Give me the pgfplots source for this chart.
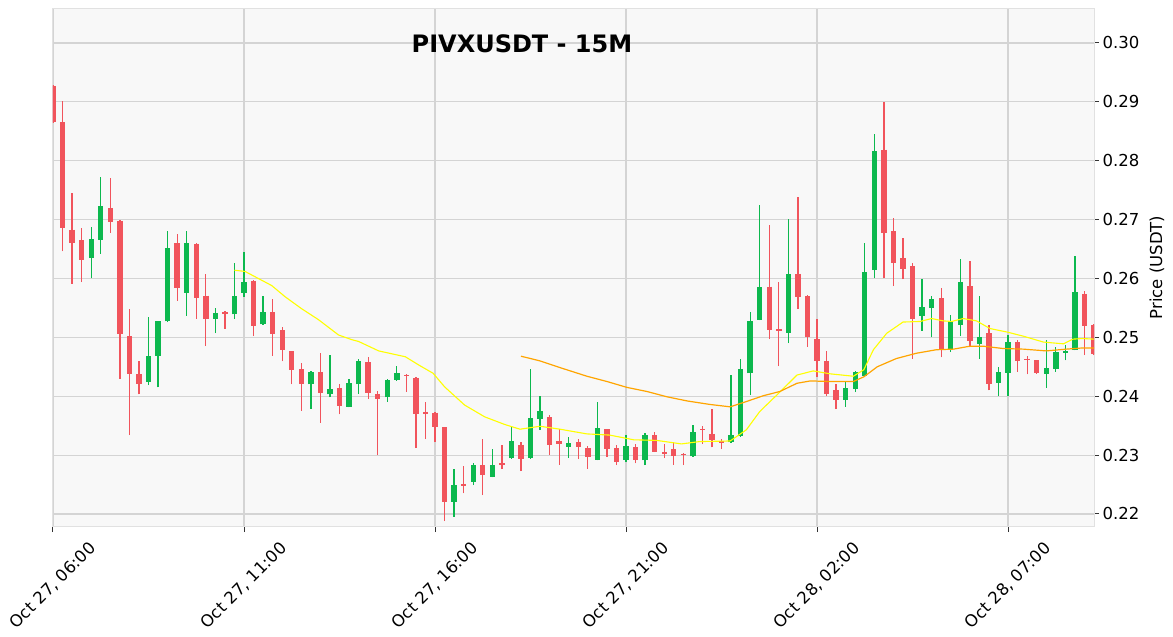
\documentclass[border=0pt]{standalone}
\usepackage{pgfplots}
\usepackage{pgfplotstable}
\pgfplotsset{compat=1.18}
\usepackage{fontspec}
\setmainfont{DejaVu Sans}
\definecolor{upc}{RGB}{12,184,78}
\definecolor{dnc}{RGB}{241,84,92}
\definecolor{bgc}{RGB}{248,248,248}
\definecolor{gridc}{RGB}{212,212,212}
\definecolor{spinec}{RGB}{225,225,225}
\definecolor{ma20}{RGB}{255,255,0}
\definecolor{ma50}{RGB}{255,165,0}

\pgfplotstableread{
i o h l c
0 0.2927 0.2928 0.2864 0.2865
1 0.2865 0.2902 0.2646 0.2686
2 0.2683 0.2746 0.2591 0.2661
3 0.2665 0.2685 0.2594 0.2632
4 0.2635 0.2687 0.2600 0.2667
5 0.2666 0.2773 0.2642 0.2723
6 0.2719 0.2770 0.2678 0.2696
7 0.2698 0.2700 0.2430 0.2506
8 0.2502 0.2549 0.2334 0.2437
9 0.2437 0.2459 0.2403 0.2420
10 0.2425 0.2534 0.2419 0.2468
11 0.2469 0.2528 0.2415 0.2527
12 0.2527 0.2680 0.2526 0.2651
13 0.2660 0.2675 0.2562 0.2584
14 0.2576 0.2680 0.2537 0.2660
15 0.2659 0.2660 0.2532 0.2567
16 0.2571 0.2607 0.2485 0.2532
17 0.2532 0.2550 0.2507 0.2541
18 0.2543 0.2545 0.2515 0.2539
19 0.2539 0.2626 0.2532 0.2571
20 0.2576 0.2645 0.2569 0.2594
21 0.2596 0.2597 0.2502 0.2520
22 0.2522 0.2570 0.2521 0.2543
23 0.2543 0.2565 0.2469 0.2506
24 0.2512 0.2518 0.2459 0.2479
25 0.2476 0.2477 0.2420 0.2445
26 0.2446 0.2456 0.2375 0.2420
27 0.2420 0.2443 0.2379 0.2441
28 0.2441 0.2473 0.2355 0.2406
29 0.2403 0.2470 0.2398 0.2412
30 0.2414 0.2420 0.2369 0.2384
31 0.2382 0.2430 0.2381 0.2422
32 0.2420 0.2463 0.2404 0.2460
33 0.2458 0.2467 0.2395 0.2406
34 0.2403 0.2409 0.2300 0.2396
35 0.2398 0.2430 0.2391 0.2427
36 0.2428 0.2451 0.2426 0.2440
37 0.2436 0.2437 0.2408 0.2434
38 0.2431 0.2433 0.2312 0.2369
39 0.2374 0.2390 0.2327 0.2370
40 0.2372 0.2373 0.2322 0.2347
41 0.2347 0.2348 0.2188 0.2221
42 0.2221 0.2276 0.2195 0.2250
43 0.2251 0.2282 0.2235 0.2248
44 0.2255 0.2286 0.2249 0.2283
45 0.2283 0.2327 0.2232 0.2267
46 0.2263 0.2310 0.2262 0.2283
47 0.2286 0.2317 0.2276 0.2284
48 0.2295 0.2350 0.2294 0.2324
49 0.2318 0.2322 0.2273 0.2293
50 0.2295 0.2446 0.2294 0.2363
51 0.2362 0.2400 0.2343 0.2375
52 0.2364 0.2368 0.2301 0.2318
53 0.2324 0.2344 0.2284 0.2319
54 0.2314 0.2331 0.2295 0.2321
55 0.2322 0.2328 0.2293 0.2313
56 0.2312 0.2316 0.2277 0.2296
57 0.2292 0.2390 0.2291 0.2346
58 0.2344 0.2345 0.2297 0.2311
59 0.2312 0.2318 0.2283 0.2289
60 0.2292 0.2335 0.2288 0.2315
61 0.2313 0.2319 0.2286 0.2291
62 0.2291 0.2337 0.2283 0.2335
63 0.2334 0.2340 0.2305 0.2306
64 0.2306 0.2319 0.2295 0.2302
65 0.2310 0.2323 0.2284 0.2299
66 0.2302 0.2303 0.2283 0.2300
67 0.2298 0.2351 0.2297 0.2340
68 0.2344 0.2350 0.2319 0.2342
69 0.2336 0.2378 0.2313 0.2325
70 0.2324 0.2327 0.2310 0.2321
71 0.2322 0.2436 0.2321 0.2334
72 0.2332 0.2464 0.2331 0.2447
73 0.2439 0.2543 0.2402 0.2527
74 0.2530 0.2724 0.2529 0.2586
75 0.2586 0.2690 0.2497 0.2513
76 0.2514 0.2594 0.2451 0.2510
77 0.2508 0.2701 0.2490 0.2608
78 0.2608 0.2739 0.2548 0.2569
79 0.2570 0.2572 0.2484 0.2501
80 0.2497 0.2531 0.2433 0.2459
81 0.2460 0.2476 0.2400 0.2404
82 0.2411 0.2420 0.2378 0.2394
83 0.2394 0.2424 0.2382 0.2414
84 0.2412 0.2443 0.2407 0.2441
85 0.2435 0.2660 0.2434 0.2611
86 0.2614 0.2845 0.2600 0.2816
87 0.2819 0.2899 0.2600 0.2678
88 0.2680 0.2702 0.2587 0.2627
89 0.2634 0.2668 0.2599 0.2616
90 0.2621 0.2627 0.2464 0.2532
91 0.2537 0.2599 0.2511 0.2552
92 0.2550 0.2570 0.2500 0.2565
93 0.2566 0.2583 0.2466 0.2481
94 0.2480 0.2538 0.2475 0.2526
95 0.2521 0.2633 0.2502 0.2594
96 0.2587 0.2629 0.2483 0.2493
97 0.2489 0.2571 0.2464 0.2501
98 0.2507 0.2521 0.2410 0.2421
99 0.2423 0.2450 0.2400 0.2441
100 0.2440 0.2504 0.2400 0.2492
101 0.2492 0.2495 0.2442 0.2459
102 0.2464 0.2468 0.2437 0.2462
103 0.2461 0.2462 0.2438 0.2439
104 0.2438 0.2495 0.2414 0.2448
105 0.2447 0.2484 0.2442 0.2475
106 0.2474 0.2487 0.2461 0.2477
107 0.2479 0.2639 0.2478 0.2577
108 0.2574 0.2579 0.2470 0.2520
109 0.2521 0.2522 0.2470 0.2472
}\candles

\pgfplotstableread{
x y
19 0.2614
20.1 0.2612
21.5 0.2600
22.9 0.2588
24.3 0.2569
26 0.2549
27.8 0.2530
29.9 0.2504
31.3 0.2496
32 0.2493
34.1 0.2477
36.9 0.2467
38.3 0.2453
39.8 0.2439
41 0.2416
43.1 0.2385
45.2 0.2365
47.3 0.2352
48.9 0.2344
51 0.2349
53.1 0.2344
55.9 0.2336
58.3 0.2334
60.8 0.2326
63.2 0.2325
65.8 0.2319
67.7 0.2323
70.9 0.2324
72.6 0.2343
74 0.2374
76.1 0.2407
77.9 0.2436
79.6 0.2443
81.4 0.2438
83.8 0.2434
84.9 0.2445
85.9 0.2479
87.3 0.2507
89 0.2526
90.8 0.2527
92 0.2532
93.2 0.2528
94.1 0.2527
95.3 0.2532
96.7 0.2528
98.1 0.2515
99.9 0.2509
101.6 0.2502
103.7 0.2492
105.8 0.2489
106.8 0.2497
107.8 0.2498
109 0.2497
}\mafast

\pgfplotstableread{
x y
49 0.2468
51 0.2460
53.4 0.2447
55.9 0.2434
58 0.2425
60.1 0.2415
62.2 0.2408
64.3 0.2399
66.4 0.2392
68.8 0.2386
70.9 0.2382
72.6 0.2391
74.4 0.2401
76.1 0.2408
77.9 0.2422
79.3 0.2426
81.4 0.2425
83.8 0.2425
84.9 0.2433
86.3 0.2450
88.3 0.2464
90.4 0.2473
92.5 0.2479
94.3 0.2480
96 0.2485
97.4 0.2485
99.5 0.2481
101.6 0.2480
104 0.2477
106.1 0.2480
107.8 0.2482
109 0.2482
}\maslow

\begin{document}
\begin{tikzpicture}
\begin{axis}[
  name=ax,
  scale only axis,
  width=1041pt, height=519pt,
  xmin=0, xmax=109,
  ymin=0.21779, ymax=0.30594,
  axis background/.style={fill=bgc},
  axis line style={draw=spinec, line width=1pt},
  grid=major,
  major grid style={draw=gridc, line width=1.2pt},
  xtick={0,20,40,60,80,100},
  xticklabels={{Oct 27, 06:00},{Oct 27, 11:00},{Oct 27, 16:00},{Oct 27, 21:00},{Oct 28, 02:00},{Oct 28, 07:00}},
  ytick={0.22,0.23,0.24,0.25,0.26,0.27,0.28,0.29,0.30},
  yticklabel style={/pgf/number format/.cd, fixed, fixed zerofill, precision=2},
  /pgf/number format/assume math mode=true,
  xtick pos=bottom, ytick pos=right, yticklabel pos=right,
  tick align=outside,
  major tick length=5pt,
  tick style={draw=black!80, line width=1pt},
  ticklabel style={font=\fontsize{16.5}{19}\selectfont},
  xticklabel style={rotate=45, anchor=center, xshift=-38pt, yshift=-38pt},
  ylabel={Price (USDT)},
  ylabel style={at={(axis description cs:1,0.5)}, yshift=-63pt, anchor=center, font=\fontsize{16.5}{19}\selectfont},
  title={\textbf{PIVXUSDT - 15M}},
  title style={at={(rel axis cs:0.4505,0.919)}, anchor=center, font=\fontsize{24}{28}\selectfont},
]
\pgfplotsinvokeforeach{0,...,109}{
  \pgfplotstablegetelem{#1}{o}\of\candles \edef\cO{\pgfplotsretval}
  \pgfplotstablegetelem{#1}{h}\of\candles \edef\cH{\pgfplotsretval}
  \pgfplotstablegetelem{#1}{l}\of\candles \edef\cL{\pgfplotsretval}
  \pgfplotstablegetelem{#1}{c}\of\candles \edef\cC{\pgfplotsretval}
  \pgfmathparse{\cC>=\cO ? 1 : 0}
  \ifdim\pgfmathresult pt>0.5pt \def\ccol{upc}\else\def\ccol{dnc}\fi
  \edef\cmd{\noexpand\addplot[draw=\ccol, line width=1.3pt, forget plot] coordinates {(#1,\cL) (#1,\cH)};
    \noexpand\addplot[draw=\ccol, line width=5.4pt, line cap=butt, forget plot] coordinates {(#1,\cO) (#1,\cC)};}
  \cmd
}
\addplot[draw=ma20, line width=1.1pt, forget plot] table[x=x,y=y] {\mafast};
\addplot[draw=ma50, line width=1.2pt, forget plot] table[x=x,y=y] {\maslow};
\end{axis}
\pgfresetboundingbox
\path[use as bounding box] (ax.south west) ++(-53pt,-110pt) rectangle ++(1173pt,637pt);
\end{tikzpicture}
\end{document}
